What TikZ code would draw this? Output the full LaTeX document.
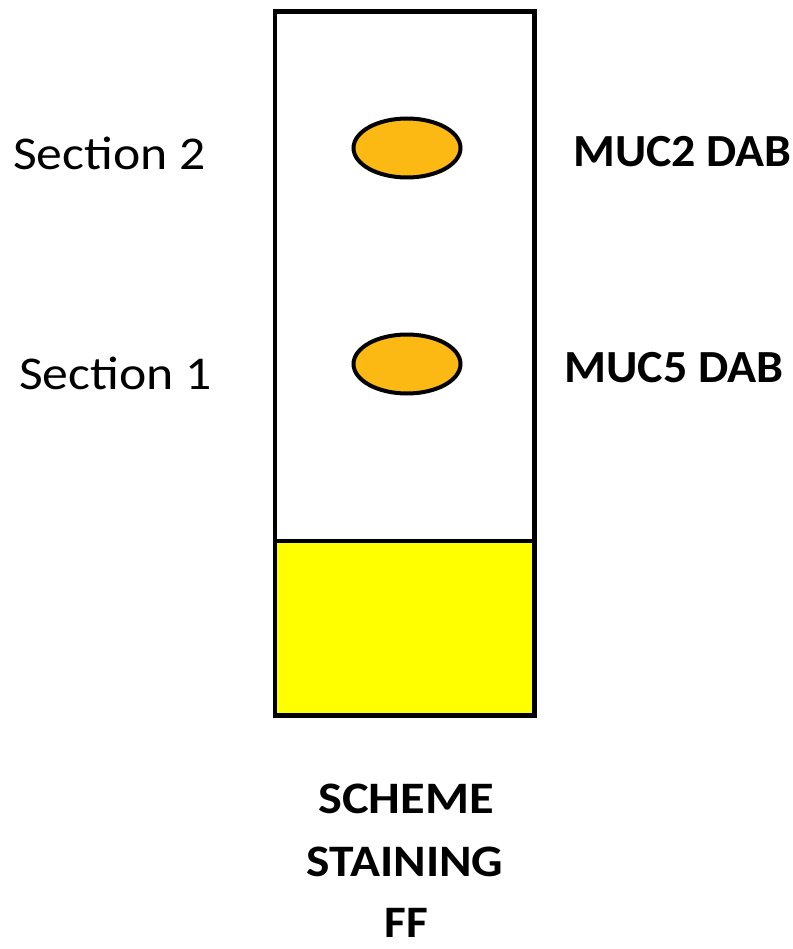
\documentclass[tikz,border=0pt]{standalone}
\usepackage{fontspec}
\usepackage{graphicx}
\setmainfont{Carlito}
\usetikzlibrary{shapes.geometric}
\definecolor{spotfill}{RGB}{253,185,19}
\definecolor{padyellow}{RGB}{255,255,0}
\newcommand{\hsc}[2]{\scalebox{#1}[1]{#2}}
\tikzset{
  lbl/.style={anchor=base west, inner sep=0pt, font=\fontsize{47}{56}\selectfont},
  blbl/.style={anchor=base west, inner sep=0pt, font=\fontsize{46}{55}\selectfont\bfseries},
  caplbl/.style={anchor=base, inner sep=0pt, font=\fontsize{45}{54}\selectfont\bfseries},
  spot/.style={ellipse, draw=black, line width=4pt, fill=spotfill, minimum width=107pt, minimum height=59pt, inner sep=0pt},
  frame/.style={draw=black, line width=4.5pt}
}
\begin{document}
\begin{tikzpicture}[x=1pt,y=-1pt]
\useasboundingbox (0,0) rectangle (792,949);
\fill[padyellow] (275,541) rectangle (534.5,715.5);
\draw[frame] (275,11.5) rectangle (534.5,715.5);
\draw[frame] (275,541) -- (534.5,541);
\node[spot] (s2) at (407,148) {};
\node[spot] (s1) at (407,364) {};
\node[lbl] (t2) at (13,169.5) {\hsc{1.1}{Section 2}};
\node[lbl] (t1) at (19,389) {\hsc{1.1}{Section 1}};
\node[blbl] (m2) at (573,167) {\hsc{1.04}{MUC2 DAB}};
\node[blbl] (m5) at (564,382) {\hsc{1.045}{MUC5 DAB}};
\node[caplbl] (c1) at (406,813) {\hsc{1.12}{SCHEME}};
\node[caplbl] (c2) at (405,876) {\hsc{1.1}{STAINING}};
\node[caplbl] (c3) at (406,937) {\hsc{1.05}{FF}};
\end{tikzpicture}
\end{document}
